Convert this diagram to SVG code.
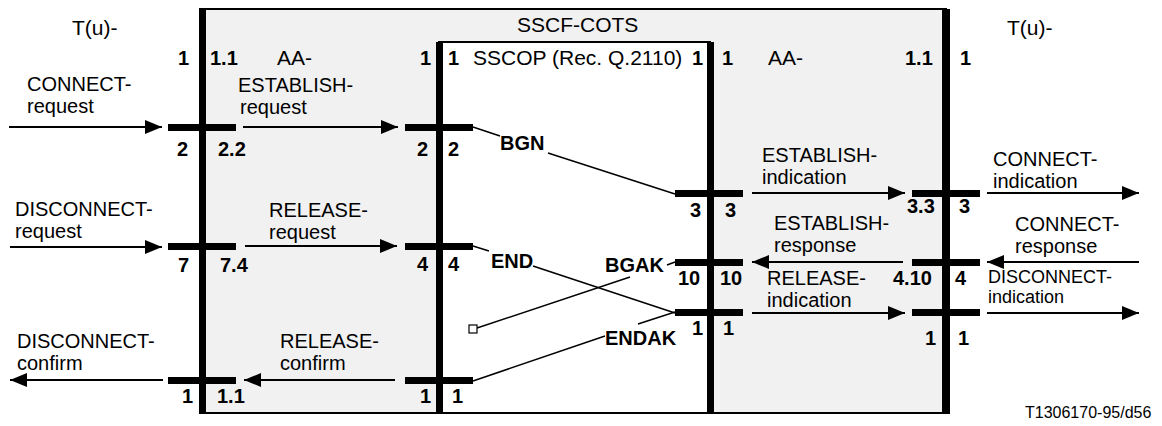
<svg xmlns="http://www.w3.org/2000/svg" width="1162" height="426" viewBox="0 0 1162 426">
<defs>
<marker id="ah" markerUnits="userSpaceOnUse" markerWidth="18" markerHeight="14" refX="17" refY="7" orient="auto"><path d="M0,0 L17,7 L0,14 z" fill="#000"/></marker>
<style>
text{font-family:"Liberation Sans",Arial,sans-serif;fill:#000}
.t{font-size:21px}
.m{font-size:20px}
.s{font-size:18px}
.n{font-size:20px;font-weight:bold}
.f{font-size:16px}
.bar{fill:#000}
.arr{stroke:#000;stroke-width:2;fill:none;marker-end:url(#ah)}
.thin{stroke:#000;stroke-width:1.5;fill:none}
</style>
</defs>
<rect width="1162" height="426" fill="#fff"/>
<g id="sscf-cots">
<rect x="202" y="9" width="744" height="404" fill="#f1f1f1" stroke="#000" stroke-width="2"/>
<text class="t" x="517" y="32">SSCF-COTS</text>
</g>
<g id="sscop">
<rect x="439" y="42" width="271" height="371" fill="#fff" stroke="#000" stroke-width="2"/>
<text class="t" x="473" y="65">SSCOP (Rec. Q.2110)</text>
</g>
<g id="user-left">
<text class="t" x="72" y="35">T(u)-</text>
</g>
<g id="user-right">
<text class="t" x="1007" y="35">T(u)-</text>
</g>
<g id="aa-left">
<text class="t" x="277" y="65">AA-</text>
</g>
<g id="aa-right">
<text class="t" x="768" y="65">AA-</text>
</g>
<g id="boundary-1">
<rect class="bar" x="199" y="8" width="7" height="406"/>
<rect class="bar" x="168" y="124" width="68" height="7"/>
<rect class="bar" x="168" y="243" width="68" height="7"/>
<rect class="bar" x="168" y="377" width="68" height="7"/>
<text class="n" x="178" y="65">1</text><text class="n" x="210" y="65">1.1</text>
<text class="n" x="177" y="156">2</text><text class="n" x="218" y="156">2.2</text>
<text class="n" x="178" y="272">7</text><text class="n" x="220" y="272">7.4</text>
<text class="n" x="182" y="403">1</text><text class="n" x="217" y="403">1.1</text>
</g>
<g id="boundary-2">
<rect class="bar" x="436" y="42" width="7" height="372"/>
<rect class="bar" x="405" y="124" width="68" height="7"/>
<rect class="bar" x="405" y="243" width="68" height="7"/>
<rect class="bar" x="405" y="377" width="68" height="7"/>
<text class="n" x="420" y="65">1</text><text class="n" x="448" y="65">1</text>
<text class="n" x="417" y="156">2</text><text class="n" x="448" y="156">2</text>
<text class="n" x="417" y="271">4</text><text class="n" x="448" y="271">4</text>
<text class="n" x="420" y="403">1</text><text class="n" x="452" y="403">1</text>
</g>
<g id="boundary-3">
<rect class="bar" x="707" y="42" width="7" height="372"/>
<rect class="bar" x="675" y="190" width="68" height="7"/>
<rect class="bar" x="675" y="259" width="68" height="7"/>
<rect class="bar" x="675" y="309" width="68" height="7"/>
<text class="n" x="692" y="65">1</text><text class="n" x="722" y="65">1</text>
<text class="n" x="690" y="217">3</text><text class="n" x="725" y="217">3</text>
<text class="n" x="678" y="285">10</text><text class="n" x="720" y="285">10</text>
<text class="n" x="692" y="335">1</text><text class="n" x="723" y="335">1</text>
</g>
<g id="boundary-4">
<rect class="bar" x="942" y="9" width="8" height="405"/>
<rect class="bar" x="912" y="190" width="68" height="7"/>
<rect class="bar" x="912" y="259" width="68" height="7"/>
<rect class="bar" x="912" y="309" width="68" height="7"/>
<text class="n" x="905" y="65">1.1</text><text class="n" x="960" y="65">1</text>
<text class="n" x="907" y="213">3.3</text><text class="n" x="959" y="213">3</text>
<text class="n" x="893" y="285">4.10</text><text class="n" x="955" y="285">4</text>
<text class="n" x="925" y="345">1</text><text class="n" x="958" y="345">1</text>
</g>
<g id="connectors">
<line class="arr" x1="9" y1="127" x2="162" y2="127"/>
<line class="arr" x1="243" y1="127" x2="398" y2="127"/>
<line class="arr" x1="10" y1="247" x2="162" y2="247"/>
<line class="arr" x1="245" y1="246" x2="397" y2="246"/>
<line class="arr" x1="163" y1="380" x2="10" y2="380"/>
<line class="arr" x1="395" y1="380" x2="244" y2="380"/>
<line class="arr" x1="752" y1="193" x2="905" y2="193"/>
<line class="arr" x1="903" y1="262" x2="752" y2="262"/>
<line class="arr" x1="752" y1="313" x2="905" y2="313"/>
<line class="arr" x1="987" y1="193" x2="1139" y2="193"/>
<line class="arr" x1="1139" y1="262" x2="987" y2="262"/>
<line class="arr" x1="987" y1="313" x2="1139" y2="313"/>
<path class="thin" d="M473,127 L500,136 M548,153 L675,194"/>
<path class="thin" d="M473,246 L489,251 M533,266 L675,313"/>
<path class="thin" d="M675,262 L667,265 M630,277 L477,328"/>
<rect x="469" y="325" width="8" height="8" fill="#fff" stroke="#000" stroke-width="1.2"/>
<path class="thin" d="M473,381 L605,336 M638,324 L675,312"/>
<text class="m" x="27" y="91">CONNECT-<tspan x="27" y="113">request</tspan></text>
<text class="m" x="238" y="92">ESTABLISH-<tspan x="240" y="114">request</tspan></text>
<text class="m" x="15" y="216">DISCONNECT-<tspan x="15" y="238">request</tspan></text>
<text class="m" x="269" y="217">RELEASE-<tspan x="269" y="239">request</tspan></text>
<text class="m" x="17" y="348">DISCONNECT-<tspan x="17" y="370">confirm</tspan></text>
<text class="m" x="280" y="348">RELEASE-<tspan x="280" y="370">confirm</tspan></text>
<text class="m" x="762" y="162">ESTABLISH-<tspan x="762" y="184">indication</tspan></text>
<text class="m" x="774" y="230">ESTABLISH-<tspan x="774" y="252">response</tspan></text>
<text class="m" x="767" y="285">RELEASE-<tspan x="767" y="307">indication</tspan></text>
<text class="m" x="993" y="166">CONNECT-<tspan x="993" y="188">indication</tspan></text>
<text class="m" x="1015" y="231">CONNECT-<tspan x="1015" y="253">response</tspan></text>
<text class="s" x="988" y="283">DISCONNECT-<tspan x="988" y="303">indication</tspan></text>
<text class="n" x="500" y="150">BGN</text>
<text class="n" x="491" y="268">END</text>
<text class="n" x="605" y="272">BGAK</text>
<text class="n" x="605" y="345">ENDAK</text>
</g>
<text class="f" x="1025" y="418">T1306170-95/d56</text>
</svg>
